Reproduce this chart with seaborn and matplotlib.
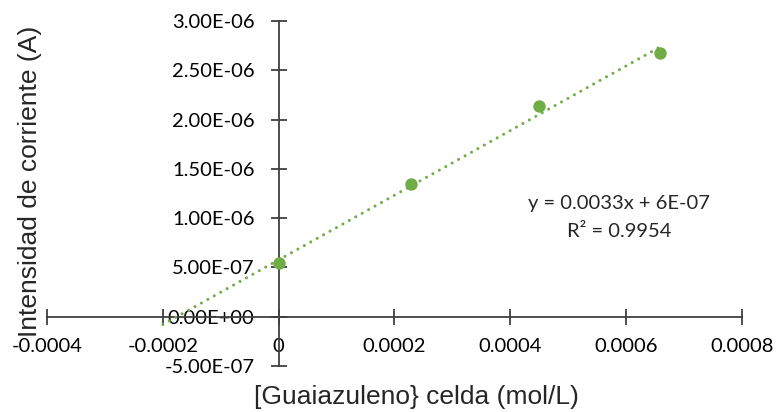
import numpy as np
import matplotlib
matplotlib.use("Agg")
import matplotlib.pyplot as plt
import matplotlib.ticker as mticker
import seaborn as sns
import pandas as pd

# data
conc = [0.0, 0.000229, 0.000449, 0.000658]
current = [5.41e-7, 1.342e-6, 2.133e-6, 2.673e-6]
forecast_backward = 0.0002
equation_text = "y = 0.0033x + 6E-07"
r2_text = "R² = 0.9954"
x_label = "[Guaiazuleno} celda (mol/L)"
y_label = "Intensidad de corriente (A)"
x_ticks = [-0.0004, -0.0002, 0, 0.0002, 0.0004, 0.0006, 0.0008]
x_tick_labels = ["-0.0004", "-0.0002", "0", "0.0002", "0.0004", "0.0006", "0.0008"]
y_ticks = [-5e-7, 0, 5e-7, 1e-6, 1.5e-6, 2e-6, 2.5e-6, 3e-6]

sns.set_style("white")
plt.rcParams['font.family'] = ['Lato', 'DejaVu Sans']

df = pd.DataFrame({"conc": conc, "current": current})

fig = plt.figure(figsize=(7.79, 4.12), dpi=100)
ax = fig.add_axes([47/779, 1-366/412, (742-47)/779, (366-21)/412])

green = "#70AD47"
axis_col = "#404040"

# trendline
m, b = np.polyfit(df["conc"], df["current"], 1)
xt = np.array([min(conc) - forecast_backward, max(conc)])
ax.plot(xt, m*xt + b, color=green, lw=2.2, linestyle=(0, (0.01, 2.4)),
        dash_capstyle="round", solid_capstyle="round", zorder=2)

sns.scatterplot(data=df, x="conc", y="current", ax=ax, color=green, s=80,
                edgecolor=green, linewidth=0, zorder=3)

ax.set_xlim(-0.0004, 0.0008)
ax.set_ylim(-5e-7, 3e-6)
ax.set_xticks(x_ticks)
ax.set_xticklabels(x_tick_labels)
ax.set_yticks(y_ticks)
ax.yaxis.set_major_formatter(mticker.FuncFormatter(lambda v, p: f"{v:.2E}"))

for s in ["top", "right"]:
    ax.spines[s].set_visible(False)
ax.spines["left"].set_position(("data", 0))
ax.spines["bottom"].set_position(("data", 0))
for s in ["left", "bottom"]:
    ax.spines[s].set_color(axis_col)
    ax.spines[s].set_linewidth(1.3)
    ax.spines[s].set_zorder(1)

ax.tick_params(axis="both", which="major", bottom=True, left=True, top=False, right=False,
               direction="inout", length=11, width=1.3, color=axis_col,
               labelsize=14.5, labelcolor="black")
ax.tick_params(axis="x", pad=10)
ax.tick_params(axis="y", pad=12)
ax.set_xlabel("")
ax.set_ylabel("")
ax.patch.set_alpha(0)

ax.text(0.000588, 1.15e-6, equation_text, ha="center", va="center", fontsize=14.5)
ax.text(0.000588, 0.86e-6, r2_text, ha="center", va="center", fontsize=14.5)

fig.text(416/779, 1-397/412, x_label, ha="center", va="center", fontsize=19,
         family=["Liberation Sans", "DejaVu Sans"])
fig.text(30/779, 1-181/412, y_label, ha="center", va="center", rotation=90, fontsize=19,
         family=["Liberation Sans", "DejaVu Sans"])

fig.savefig("out.png", dpi=100)
